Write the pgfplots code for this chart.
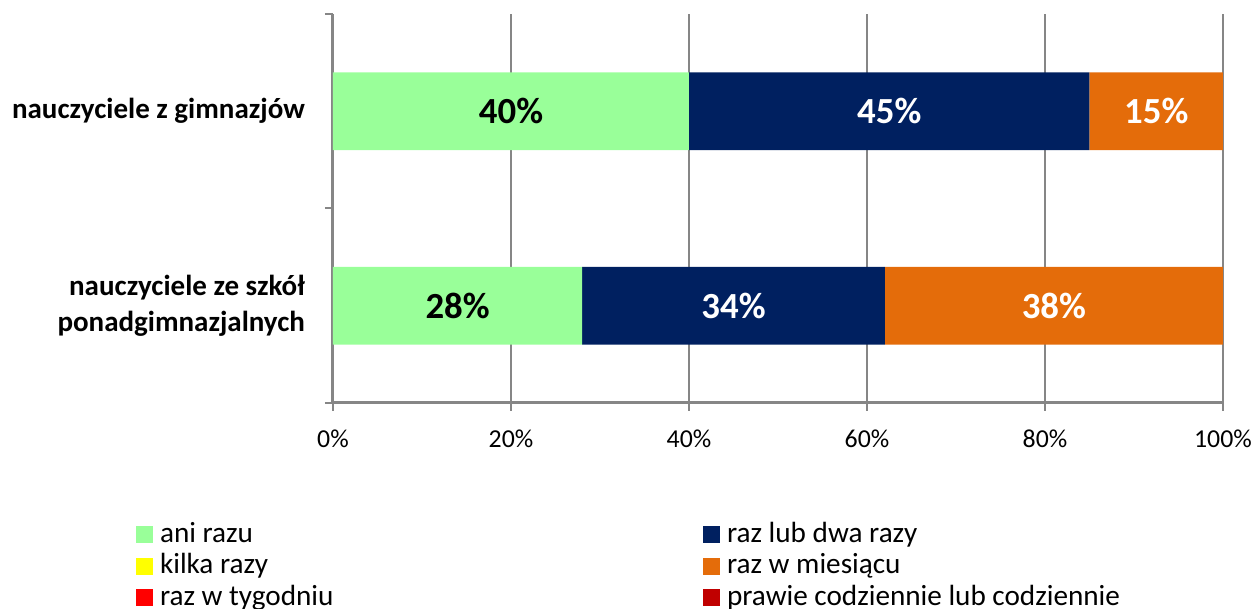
\documentclass[border=0pt]{standalone}
\usepackage{fontspec}
\setmainfont{Carlito}
\usepackage{pgfplots}
\pgfplotsset{compat=1.18}
\definecolor{cgreen}{HTML}{99FF99}
\definecolor{cnavy}{HTML}{002060}
\definecolor{corange}{HTML}{E46C0A}
\definecolor{cyellow}{HTML}{FFFF00}
\definecolor{cred}{HTML}{FF0000}
\definecolor{cdred}{HTML}{C00000}
\definecolor{axgray}{HTML}{868686}
\begin{document}
\begin{tikzpicture}
\useasboundingbox (-166.5pt,-103pt) rectangle (461pt,201.5pt);
\begin{axis}[
  at={(0pt,0pt)}, anchor=south west,
  scale only axis, width=445pt, height=194.5pt,
  xbar stacked, bar width=0.4,
  xmin=0, xmax=100, ymin=-0.5, ymax=1.5,
  axis lines=left, axis line style={-, draw=axgray, line width=1.5pt},
  xmajorgrids, grid style={draw=axgray, line width=1pt},
  tick align=outside, major tick length=4pt,
  xtick={0,20,40,60,80,100},
  xticklabels={0\%,20\%,40\%,60\%,80\%,100\%},
  xtick style={draw=axgray, line width=1pt},
  xticklabel style={font=\fontsize{12.9}{15}\selectfont, yshift=-6pt},
  ytick={0,1},
  yticklabels={{nauczyciele ze szkół\\ponadgimnazjalnych},{nauczyciele z gimnazjów}},
  yticklabel style={font=\bfseries\fontsize{14.5}{18}\selectfont, align=right, xshift=-6.5pt},
  ytick style={draw=none},
  extra y ticks={-0.5,0.5,1.5},
  extra y tick labels={},
  extra y tick style={ytick style={draw=axgray, line width=1pt}, grid=none},
  legend image code/.code={\fill[#1] (0pt,-4.25pt) rectangle (8.5pt,4.25pt);},
  legend columns=2,
  legend cell align=left,
  legend style={at={(-0.2213,-0.298)}, anchor=north west, draw=none, fill=none,
    inner sep=0pt, outer sep=0pt, row sep=0pt,
    font=\fontsize{14.6}{17}\selectfont,
    nodes={inner xsep=3.5pt, inner ysep=0pt, text height=10.5pt, text depth=3pt, minimum height=15.75pt},
    /tikz/every even column/.append style={column sep=0pt}},
]
\addplot[fill=cgreen, draw=none] coordinates {(28,0) (40,1)};
\addlegendentry{\makebox[268pt][l]{ani razu}}
\addplot[fill=cnavy, draw=none] coordinates {(34,0) (45,1)};
\addlegendentry{raz lub dwa razy}
\addplot[fill=cyellow, draw=none] coordinates {(0,0) (0,1)};
\addlegendentry{\makebox[268pt][l]{kilka razy}}
\addplot[fill=corange, draw=none] coordinates {(38,0) (15,1)};
\addlegendentry{raz w miesiącu}
\addplot[fill=cred, draw=none] coordinates {(0,0) (0,1)};
\addlegendentry{\makebox[268pt][l]{raz w tygodniu}}
\addplot[fill=cdred, draw=none] coordinates {(0,0) (0,1)};
\addlegendentry{prawie codziennie lub codziennie}
\end{axis}
\begin{axis}[
  at={(0pt,0pt)}, anchor=south west,
  scale only axis, width=445pt, height=194.5pt,
  xmin=0, xmax=100, ymin=-0.5, ymax=1.5, hide axis,
]
\addplot[draw=none, nodes near coords, point meta=explicit symbolic,
  every node near coord/.append style={anchor=center, font=\bfseries\fontsize{18.4}{22}\selectfont, text=black}]
  coordinates {(20,1)[40\%] (14,0)[28\%]};
\addplot[draw=none, nodes near coords, point meta=explicit symbolic,
  every node near coord/.append style={anchor=center, font=\bfseries\fontsize{18.4}{22}\selectfont, text=white}]
  coordinates {(62.5,1)[45\%] (92.5,1)[15\%] (45,0)[34\%] (81,0)[38\%]};
\end{axis}
\end{tikzpicture}
\end{document}
